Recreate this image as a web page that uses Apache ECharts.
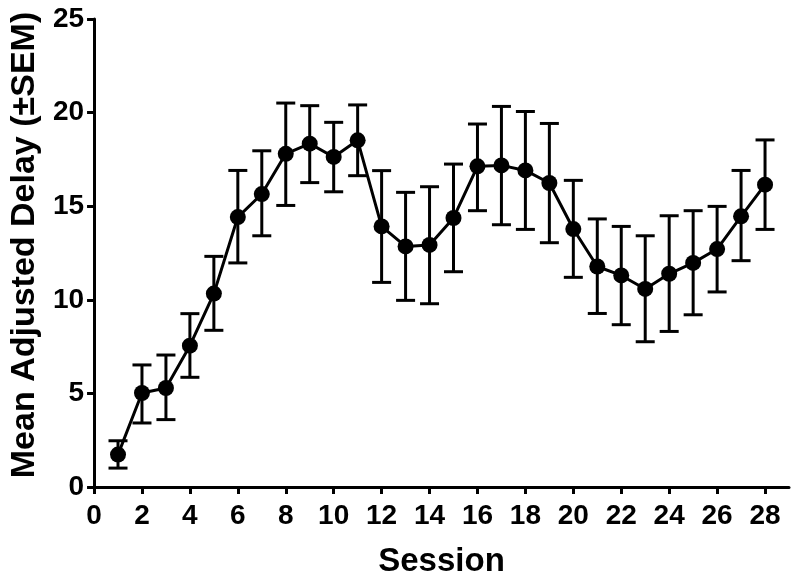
<!DOCTYPE html>
<html>
<head>
<meta charset="utf-8">
<script src="https://cdn.jsdelivr.net/npm/echarts@6/dist/echarts.min.js"></script>
<style>html,body{margin:0;padding:0;background:#fff}#c{width:800px;height:584px}</style>
</head>
<body>
<div id="c"></div>
<script>
const sessions = [1,2,3,4,5,6,7,8,9,10,11,12,13,14,15,16,17,18,19,20,21,22,23,24,25,26,27,28];
const means = [1.73,5.02,5.29,7.55,10.33,14.42,15.65,17.8,18.34,17.63,18.52,13.92,12.85,12.93,14.37,17.13,17.18,16.91,16.24,13.78,11.78,11.3,10.58,11.39,11.97,12.71,14.46,16.15];
const upper = [2.47,6.52,7.05,9.26,12.32,16.91,17.96,20.51,20.37,19.48,20.41,16.9,15.74,16.04,17.25,19.39,20.33,20.06,19.42,16.38,14.32,13.92,13.42,14.49,14.76,14.99,16.91,18.54];
const lower = [1.01,3.42,3.6,5.86,8.37,11.97,13.42,15.04,16.26,15.77,16.63,10.93,9.97,9.79,11.5,14.76,14.01,13.76,13.05,11.2,9.27,8.67,7.76,8.31,9.2,10.42,12.09,13.76];
const xTicks = [0,2,4,6,8,10,12,14,16,18,20,22,24,26,28];
const yTicks = [0,5,10,15,20,25];

const chart = echarts.init(document.getElementById('c'), null, {renderer: 'canvas'});
const font = 'Liberation Sans, Arial, sans-serif';
const lineData = sessions.map((s, i) => [s, means[i]]);
const errData = sessions.map((s, i) => [s, lower[i], upper[i]]);

chart.setOption({
  backgroundColor: '#ffffff',
  animation: false,
  grid: {left: 90, right: 11, top: 19, bottom: 97},
  xAxis: {
    type: 'value', min: 0, max: 29, interval: 2,
    name: 'Session', nameLocation: 'middle', nameGap: 58,
    nameTextStyle: {fontFamily: font, fontWeight: 'bold', fontSize: 33, color: '#000'},
    axisLine: {show: true, onZero: false, lineStyle: {color: '#000', width: 3}},
    axisTick: {show: true, length: 7, lineStyle: {color: '#000', width: 3}, customValues: xTicks},
    axisLabel: {fontFamily: font, fontWeight: 'bold', fontSize: 28, color: '#000', margin: 15, customValues: xTicks},
    splitLine: {show: false}
  },
  yAxis: {
    type: 'value', min: 0, max: 25, interval: 5,
    name: 'Mean Adjusted Delay (±SEM)', nameLocation: 'middle', nameGap: 51,
    nameTextStyle: {fontFamily: font, fontWeight: 'bold', fontSize: 34, color: '#000', padding: [0, 0, 0, 16]},
    axisLine: {show: true, lineStyle: {color: '#000', width: 3}},
    axisTick: {show: true, length: 7, lineStyle: {color: '#000', width: 3}, customValues: yTicks},
    axisLabel: {fontFamily: font, fontWeight: 'bold', fontSize: 28, color: '#000', margin: 10, customValues: yTicks},
    splitLine: {show: false}
  },
  series: [
    {
      type: 'custom',
      data: errData,
      z: 2,
      renderItem: function (params, api) {
        const x = api.value(0);
        const lo = api.coord([x, api.value(1)]);
        const hi = api.coord([x, api.value(2)]);
        const hw = 9.5;
        const st = {stroke: '#000', lineWidth: 3, fill: null};
        return {
          type: 'group',
          children: [
            {type: 'line', shape: {x1: lo[0], y1: lo[1], x2: hi[0], y2: hi[1]}, style: st},
            {type: 'line', shape: {x1: hi[0] - hw, y1: hi[1], x2: hi[0] + hw, y2: hi[1]}, style: st},
            {type: 'line', shape: {x1: lo[0] - hw, y1: lo[1], x2: lo[0] + hw, y2: lo[1]}, style: st}
          ]
        };
      }
    },
    {
      type: 'line',
      data: lineData,
      z: 3,
      symbol: 'circle',
      symbolSize: 16,
      itemStyle: {color: '#000'},
      lineStyle: {color: '#000', width: 3}
    }
  ]
});
</script>
</body>
</html>
